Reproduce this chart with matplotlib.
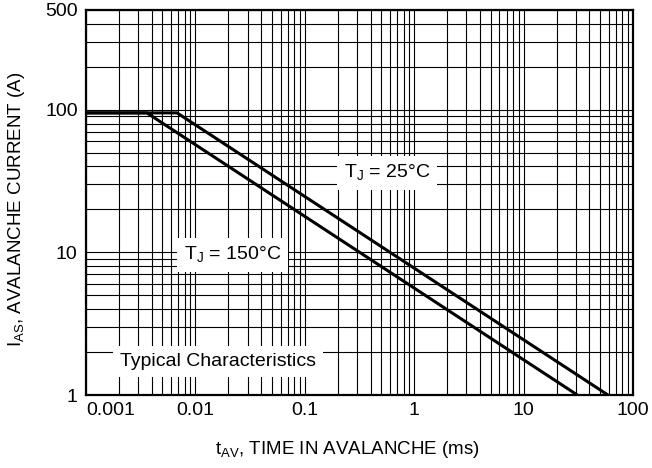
import numpy as np
import matplotlib.pyplot as plt
from matplotlib.ticker import LogLocator, NullFormatter, FixedLocator, FixedFormatter

plt.rcParams["font.family"] = ["Liberation Sans", "DejaVu Sans"]

# avalanche current vs. time in avalanche
t_25 = [0.001, 0.0068, 59.0]
i_25 = [95.0, 95.0, 1.0]
t_150 = [0.001, 0.0036, 31.0]
i_150 = [95.0, 95.0, 1.0]

x_ticks = [0.001, 0.01, 0.1, 1, 10, 100]
x_labels = ["0.001", "0.01", "0.1", "1", "10", "100"]
y_ticks = [1, 10, 100, 500]
y_labels = ["1", "10", "100", "500"]

fs = 14

fig = plt.figure(figsize=(6.52, 4.68), dpi=100)
ax = fig.add_axes([86 / 652, 1 - 395 / 468, 547 / 652, 385 / 468])

ax.set_xscale("log")
ax.set_yscale("log")
ax.set_xlim(0.001, 100)
ax.set_ylim(1, 500)

# grid on every decade subdivision, like the datasheet
ax.xaxis.set_major_locator(FixedLocator(x_ticks))
ax.xaxis.set_major_formatter(FixedFormatter(x_labels))
ax.yaxis.set_major_locator(FixedLocator(y_ticks))
ax.yaxis.set_major_formatter(FixedFormatter(y_labels))
ax.xaxis.set_minor_locator(LogLocator(base=10, subs=np.arange(2, 10)))
ax.yaxis.set_minor_locator(LogLocator(base=10, subs=np.arange(2, 10)))
ax.xaxis.set_minor_formatter(NullFormatter())
ax.yaxis.set_minor_formatter(NullFormatter())
ax.grid(True, which="both", color="black", linewidth=0.8)
ax.tick_params(which="both", length=0, labelsize=fs)
ax.tick_params(axis="x", pad=5)
ax.tick_params(axis="y", pad=6)
for s in ax.spines.values():
    s.set_linewidth(1.6)

ax.plot(t_25, i_25, color="black", linewidth=2.2, zorder=3, solid_capstyle="butt")
ax.plot(t_150, i_150, color="black", linewidth=2.2, zorder=3, solid_capstyle="butt")

box = dict(facecolor="white", edgecolor="none", pad=5)
ax.text(0.550, 0.577, r"T$_\mathregular{J}$ = 25°C", transform=ax.transAxes,
        ha="center", va="center", fontsize=fs, bbox=box, zorder=4)
ax.text(0.268, 0.364, r"T$_\mathregular{J}$ = 150°C", transform=ax.transAxes,
        ha="center", va="center", fontsize=fs, bbox=box, zorder=4)
ax.text(0.241, 0.086, "Typical Characteristics", transform=ax.transAxes,
        ha="center", va="center", fontsize=fs, bbox=box, zorder=4)

ax.set_xlabel(r"t$_\mathregular{AV}$, TIME IN AVALANCHE (ms)", fontsize=13.5)
ax.set_ylabel(r"I$_\mathregular{AS}$, AVALANCHE CURRENT (A)", fontsize=13.5)
ax.xaxis.set_label_coords((347 - 86) / 547, -(439 - 395) / 385)
ax.yaxis.set_label_coords(-(86 - 27) / 547, (395 - 209) / 385)

# first x label sits to the right of the axis corner
first = ax.get_xticklabels()[0]
first.set_horizontalalignment("left")

fig.savefig("out.png", dpi=100)
